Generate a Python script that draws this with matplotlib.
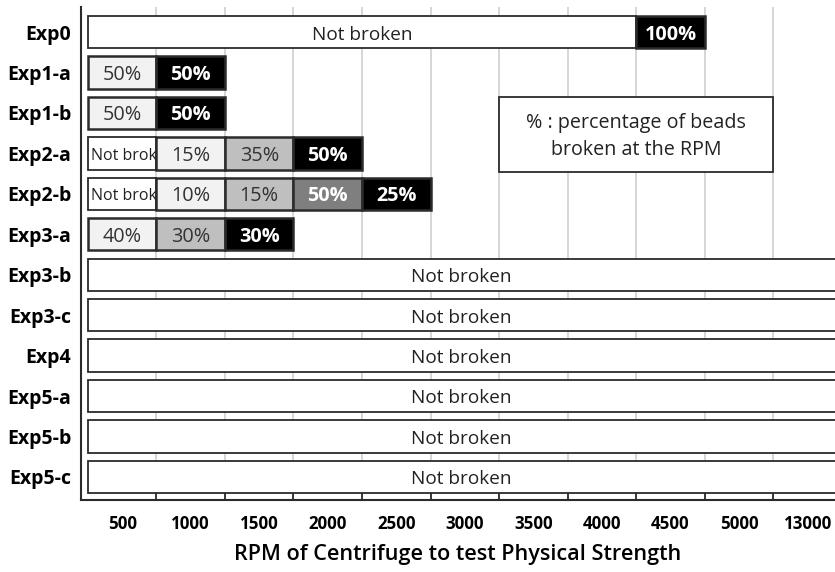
import matplotlib
matplotlib.use('Agg')
import matplotlib.pyplot as plt
from matplotlib.patches import Rectangle

plt.rcParams['font.family'] = ['Open Sans', 'DejaVu Sans']

# 資料
experiments = ['Exp0', 'Exp1-a', 'Exp1-b', 'Exp2-a', 'Exp2-b', 'Exp3-a',
               'Exp3-b', 'Exp3-c', 'Exp4', 'Exp5-a', 'Exp5-b', 'Exp5-c']
rpm_labels = ['500', '1000', '1500', '2000', '2500', '3000', '3500',
              '4000', '4500', '5000', '13000']
# number of RPM steps where beads were not broken
not_broken_steps = [8, 0, 0, 1, 1, 0, 11, 11, 11, 11, 11, 11]
# percentage of beads broken at each following RPM step
broken_pct = [[100], [50, 50], [50, 50], [15, 35, 50], [10, 15, 50, 25],
              [40, 30, 30], [], [], [], [], [], []]

shades = ['#f2f2f2', '#bfbfbf', '#7f7f7f']
edge = '#2b2b2b'
bar_h = 0.8
dy = 0.06  # 文字垂直微調

fig = plt.figure(figsize=(8.35, 5.72), dpi=100)
ax = fig.add_axes([81 / 835, 72 / 572, 754 / 835, 493 / 572])

for i, name in enumerate(experiments):
    nb = not_broken_steps[i]
    if nb > 0:
        bar = ax.barh(i, nb, left=0, height=bar_h, color='white',
                      edgecolor=edge, linewidth=1.3, zorder=3)[0]
        if nb == 1:
            t = ax.text(0.05, i + dy, 'Not broken', ha='left', va='center',
                        fontsize=11.5, color='#222222', zorder=4, clip_on=True)
        else:
            t = ax.text(min(nb, 10.9) / 2, i + dy, 'Not broken', ha='center',
                        va='center', fontsize=13.7, color='#222222', zorder=4,
                        clip_on=True)
        t.set_clip_path(bar)
    pcts = broken_pct[i]
    for j, p in enumerate(pcts):
        if j == len(pcts) - 1:
            c = 'black'
        else:
            c = shades[j]
        ax.barh(i, 1, left=nb + j, height=bar_h, color=c,
                edgecolor=edge, linewidth=1.8, zorder=3)
        dark = c in ('black', '#7f7f7f')
        ax.text(nb + j + 0.5, i + dy, f'{p}%', ha='center', va='center',
                fontsize=14.3, color='white' if dark else '#333333',
                fontweight='bold' if dark else 'normal', zorder=4)

ax.set_xlim(-0.1, 10.9)
ax.set_ylim(len(experiments) - 1 + 0.57, -0.62)

# 刻度
ax.set_xticks(range(1, 11))
ax.set_xticklabels([])
ax.set_xticks([k + 0.5 for k in range(len(rpm_labels))], minor=True)
ax.set_xticklabels(rpm_labels, minor=True, fontsize=12.2, fontweight='bold')
ax.tick_params(axis='x', which='major', direction='in', length=7,
               width=1.3, color=edge)
ax.tick_params(axis='x', which='minor', length=0, pad=11)
ax.set_yticks(range(len(experiments)))
ax.set_yticklabels(experiments, fontsize=14, fontweight='bold')
ax.tick_params(axis='y', length=0, pad=7)

ax.grid(axis='x', which='major', color='#d0d0d0', linewidth=1.2, zorder=0)
ax.set_axisbelow(True)
for s in ['top', 'right']:
    ax.spines[s].set_visible(False)
for s in ['left', 'bottom']:
    ax.spines[s].set_color(edge)
    ax.spines[s].set_linewidth(1.5)

ax.set_xlabel('RPM of Centrifuge to test Physical Strength', fontsize=15.6,
              fontweight='semibold', labelpad=8)

# 說明框
ax.add_patch(Rectangle((6, 1.6), 4, 1.86, facecolor='white', edgecolor=edge,
                       linewidth=1.3, zorder=5))
ax.text(8, 2.58, '% : percentage of beads\nbroken at the RPM', ha='center',
        va='center', fontsize=14.2, color='#222222', linespacing=1.5, zorder=6)

fig.savefig('out.png', dpi=100)
